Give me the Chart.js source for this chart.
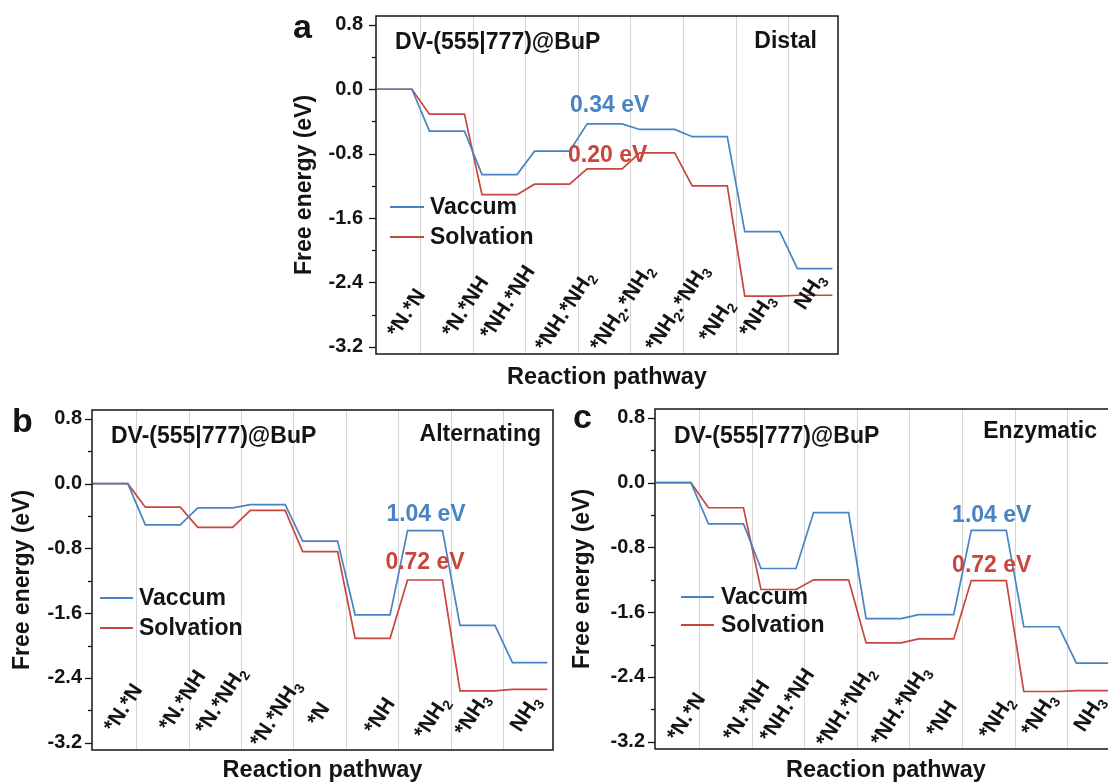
<!DOCTYPE html>
<html>
<head>
<meta charset="utf-8">
<script src="https://cdn.jsdelivr.net/npm/chart.js@4.4.1/dist/chart.umd.min.js"></script>
<style>
  html, body { margin: 0; padding: 0; background: #fff; }
  body { width: 1108px; height: 784px; position: relative; overflow: hidden; }
  canvas { position: absolute; }
</style>
</head>
<body>
<canvas id="chart-a" width="580" height="392" style="left:280px;top:0"></canvas>
<canvas id="chart-b" width="570" height="389" style="left:0;top:395px"></canvas>
<canvas id="chart-c" width="570" height="389" style="left:560px;top:395px"></canvas>
<script>
(function () {
    'use strict';

    // States along each pathway ("_" marks a subscript digit).
    var STATES_A = ['*N.*N', '*N.*NH', '*NH.*NH', '*NH.*NH_2', '*NH_2.*NH_2', '*NH_2.*NH_3', '*NH_2', '*NH_3', 'NH_3'];
    var STATES_B = ['*N.*N', '*N.*NH', '*N.*NH_2', '*N.*NH_3', '*N', '*NH', '*NH_2', '*NH_3', 'NH_3'];
    var STATES_C = ['*N.*N', '*N.*NH', '*NH.*NH', '*NH.*NH_2', '*NH.*NH_3', '*NH', '*NH_2', '*NH_3', 'NH_3'];

    // Free energies (eV).
    var VACUUM_A = [0, -0.52, -1.06, -0.77, -0.43, -0.50, -0.59, -1.77, -2.23];
    var SOLV_A   = [0, -0.31, -1.31, -1.18, -0.99, -0.79, -1.20, -2.57, -2.56];
    var VACUUM_B = [0, -0.51, -0.30, -0.26, -0.71, -1.62, -0.58, -1.75, -2.21];
    var SOLV_B   = [0, -0.29, -0.54, -0.33, -0.84, -1.91, -1.19, -2.56, -2.54];
    var VACUUM_C = [0, -0.51, -1.06, -0.37, -1.68, -1.63, -0.59, -1.78, -2.23];
    var SOLV_C   = [0, -0.31, -1.32, -1.20, -1.98, -1.93, -1.21, -2.58, -2.57];

    var Y_TICKS = [-3.2, -2.4, -1.6, -0.8, 0, 0.8];
    var Y_MINOR = [-2.8, -2.0, -1.2, -0.4, 0.4];

    // Barrier labels: [text, state index, series].
    var BARRIERS_A = [['0.34 eV', 4, 'vac'], ['0.20 eV', 4, 'solv']];
    var BARRIERS_B = [['1.04 eV', 6, 'vac'], ['0.72 eV', 6, 'solv']];
    var BARRIERS_C = [['1.04 eV', 6, 'vac'], ['0.72 eV', 6, 'solv']];

    var FONT = "'Liberation Sans', Arial, Helvetica, sans-serif";
    var BLUE = '#4884c4';
    var RED = '#c8463d';
    var GRID = '#d5d5d5';
    var INK = '#141414';
    var LABEL_ANGLE = 57 * Math.PI / 180;

    // Pixel layout for each panel (chart area inside its canvas, text offsets).
    var PANELS = [
        {
            id: 'chart-a', letter: 'a', mode: 'Distal',
            states: STATES_A, vac: VACUUM_A, solv: SOLV_A, barriers: BARRIERS_A,
            area: { left: 96, top: 16, right: 558, bottom: 354 },
            tickPad: 13,
            letterPos: [-83, 22], yTitleX: -71, xTitleY: 24,
            titlePos: [19, 27], modePos: [-21, 26],
            legend: { x: 14, len: 34, gap: 6, y: 191, row: 30 },
            barrierOff: [[5, -18], [3, -13]],
            labelOff: [[3, -15.5], [5.5, -15.5], [-9, -13.5], [-6.5, -1.5], [-4.2, -1.5], [-1.5, -1.5], [-0.5, -10.5], [-12.5, -15.5], [-10, -43]]
        },
        {
            id: 'chart-b', letter: 'b', mode: 'Alternating',
            states: STATES_B, vac: VACUUM_B, solv: SOLV_B, barriers: BARRIERS_B,
            area: { left: 92, top: 15, right: 553, bottom: 355 },
            tickPad: 10,
            letterPos: [-80, 22], yTitleX: -69, xTitleY: 21,
            titlePos: [19, 27], modePos: [-12, 25],
            legend: { x: 8, len: 33, gap: 6, y: 188, row: 30 },
            barrierOff: [[1, -16], [0, -17]],
            labelOff: [[4, -16.5], [6.5, -17.5], [-9.5, -14.5], [-7.2, -1.5], [-2.5, -22.5], [2, -14.5], [-0.5, -9.5], [-12.5, -12.5], [-9.5, -17]]
        },
        {
            id: 'chart-c', letter: 'c', mode: 'Enzymatic',
            states: STATES_C, vac: VACUUM_C, solv: SOLV_C, barriers: BARRIERS_C,
            area: { left: 95, top: 14, right: 557, bottom: 354 },
            tickPad: 10,
            letterPos: [-82, 19], yTitleX: -72, xTitleY: 22,
            titlePos: [19, 28], modePos: [-20, 23],
            legend: { x: 26, len: 33, gap: 7, y: 188, row: 28 },
            barrierOff: [[3, -15], [3, -15]],
            labelOff: [[4, -6.5], [7.5, -6.5], [-8.5, -5.5], [-4.5, -0.5], [-2.5, -1.5], [0.5, -10.5], [0.5, -8.5], [-9.5, -11.5], [-9.5, -16]]
        }
    ];

    /**
     * Split "*NH_2" into normal / subscript runs.
     */
    function richParts(str) {
        var parts = [];
        for (var i = 0; i < str.length; i++) {
            var sub = str[i] === '_';
            if (sub) i++;
            var last = parts[parts.length - 1];
            if (last && last.sub === sub) {
                last.text += str[i];
            } else {
                parts.push({ text: str[i], sub: sub });
            }
        }
        return parts;
    }

    function drawRich(ctx, str, x, y, size) {
        var cx = x;
        richParts(str).forEach(function (p) {
            var s = p.sub ? Math.round(size * 0.68) : size;
            ctx.font = 'bold ' + s + 'px ' + FONT;
            ctx.fillText(p.text, cx, p.sub ? y + size * 0.22 : y);
            cx += ctx.measureText(p.text).width;
        });
    }

    /**
     * Each state is a flat plateau; the line joins neighbouring plateaus.
     */
    function stepPoints(values) {
        var pts = [];
        values.forEach(function (v, i) {
            pts.push({ x: i - 1 / 3, y: v });
            pts.push({ x: i + 1 / 3, y: v });
        });
        return pts;
    }

    var decorPlugin = {
        id: 'decor',
        afterDraw: function (chart, args, p) {
            var ctx = chart.ctx;
            var a = chart.chartArea;
            var xs = chart.scales.x;
            var ys = chart.scales.y;

            ctx.save();

            // Frame.
            ctx.strokeStyle = INK;
            ctx.lineWidth = 1.5;
            ctx.strokeRect(a.left, a.top, a.right - a.left, a.bottom - a.top);

            // Tick marks on the left axis.
            ctx.lineWidth = 1.3;
            Y_TICKS.forEach(function (v) {
                var py = Math.round(ys.getPixelForValue(v)) + 0.5;
                ctx.beginPath();
                ctx.moveTo(a.left - 7, py);
                ctx.lineTo(a.left, py);
                ctx.stroke();
            });
            Y_MINOR.forEach(function (v) {
                var py = Math.round(ys.getPixelForValue(v)) + 0.5;
                ctx.beginPath();
                ctx.moveTo(a.left - 4, py);
                ctx.lineTo(a.left, py);
                ctx.stroke();
            });

            ctx.fillStyle = INK;

            // Panel letter.
            ctx.textAlign = 'left';
            ctx.textBaseline = 'alphabetic';
            ctx.font = 'bold 34px ' + FONT;
            ctx.fillText(p.letter, a.left + p.letterPos[0], a.top + p.letterPos[1]);

            // Title and mechanism name.
            ctx.textBaseline = 'middle';
            ctx.font = 'bold 23px ' + FONT;
            ctx.fillText('DV-(555|777)@BuP', a.left + p.titlePos[0], a.top + p.titlePos[1]);
            ctx.textAlign = 'right';
            ctx.fillText(p.mode, a.right + p.modePos[0], a.top + p.modePos[1]);

            // Axis titles.
            ctx.textAlign = 'center';
            ctx.font = 'bold 23.5px ' + FONT;
            ctx.fillText('Reaction pathway', (a.left + a.right) / 2, a.bottom + p.xTitleY);
            ctx.save();
            ctx.translate(a.left + p.yTitleX, (a.top + a.bottom) / 2);
            ctx.rotate(-Math.PI / 2);
            ctx.font = 'bold 23px ' + FONT;
            ctx.fillText('Free energy (eV)', 0, 0);
            ctx.restore();

            // Legend.
            var lg = p.legend;
            [['Vaccum', BLUE], ['Solvation', RED]].forEach(function (item, k) {
                var ly = a.top + lg.y + k * lg.row;
                ctx.strokeStyle = item[1];
                ctx.lineWidth = 2;
                ctx.beginPath();
                ctx.moveTo(a.left + lg.x, ly);
                ctx.lineTo(a.left + lg.x + lg.len, ly);
                ctx.stroke();
                ctx.fillStyle = INK;
                ctx.textAlign = 'left';
                ctx.font = 'bold 23px ' + FONT;
                ctx.fillText(item[0], a.left + lg.x + lg.len + lg.gap, ly + 1);
            });

            // Barrier annotations.
            ctx.textAlign = 'center';
            ctx.font = 'bold 23px ' + FONT;
            p.barriers.forEach(function (b, k) {
                var series = b[2] === 'vac' ? p.vac : p.solv;
                var off = p.barrierOff[k];
                ctx.fillStyle = b[2] === 'vac' ? BLUE : RED;
                ctx.fillText(b[0], xs.getPixelForValue(b[1]) + off[0], ys.getPixelForValue(series[b[1]]) + off[1]);
            });

            // Rotated state labels.
            ctx.fillStyle = INK;
            ctx.textAlign = 'left';
            ctx.textBaseline = 'alphabetic';
            p.states.forEach(function (label, i) {
                var off = p.labelOff[i];
                ctx.save();
                ctx.translate(xs.getPixelForValue(i) + off[0], a.bottom + off[1]);
                ctx.rotate(-LABEL_ANGLE);
                drawRich(ctx, label, 0, 0, 21);
                ctx.restore();
            });

            ctx.restore();
        }
    };

    function buildChart(p) {
        var canvas = document.getElementById(p.id);
        var W = canvas.width;
        var H = canvas.height;
        var n = p.states.length;

        var gridX = [];
        for (var i = 0; i < n - 1; i++) gridX.push(i + 0.5);

        var lineStyle = { borderWidth: 1.7, pointRadius: 0, tension: 0, fill: false };

        new Chart(canvas.getContext('2d'), {
            type: 'line',
            data: {
                datasets: [
                    Object.assign({ label: 'Vaccum', data: stepPoints(p.vac), borderColor: BLUE }, lineStyle),
                    Object.assign({ label: 'Solvation', data: stepPoints(p.solv), borderColor: RED }, lineStyle)
                ]
            },
            options: {
                responsive: false,
                animation: false,
                events: [],
                layout: {
                    padding: { left: 0, top: p.area.top, right: W - p.area.right, bottom: H - p.area.bottom }
                },
                plugins: {
                    legend: { display: false },
                    tooltip: { enabled: false },
                    decor: p
                },
                scales: {
                    x: {
                        type: 'linear',
                        min: -0.35,
                        max: n - 0.56,
                        afterFit: function (s) {
                            s.height = 0;
                            s.paddingLeft = s.paddingRight = s.paddingTop = s.paddingBottom = 0;
                        },
                        afterBuildTicks: function (s) {
                            s.ticks = gridX.map(function (v) { return { value: v }; });
                        },
                        ticks: { display: false },
                        grid: { color: GRID, lineWidth: 1, drawTicks: false },
                        border: { display: false }
                    },
                    y: {
                        min: -3.29,
                        max: 0.91,
                        afterFit: function (s) {
                            s.width = p.area.left;
                            s.paddingLeft = s.paddingRight = s.paddingTop = s.paddingBottom = 0;
                        },
                        afterBuildTicks: function (s) {
                            s.ticks = Y_TICKS.map(function (v) { return { value: v }; });
                        },
                        ticks: {
                            color: INK,
                            padding: p.tickPad,
                            font: { family: FONT, size: 20, weight: 'bold' },
                            callback: function (v) { return Number(v).toFixed(1); }
                        },
                        grid: { display: false, drawTicks: false },
                        border: { display: false }
                    }
                }
            },
            plugins: [decorPlugin]
        });
    }

    PANELS.forEach(buildChart);
})();
</script>
</body>
</html>
